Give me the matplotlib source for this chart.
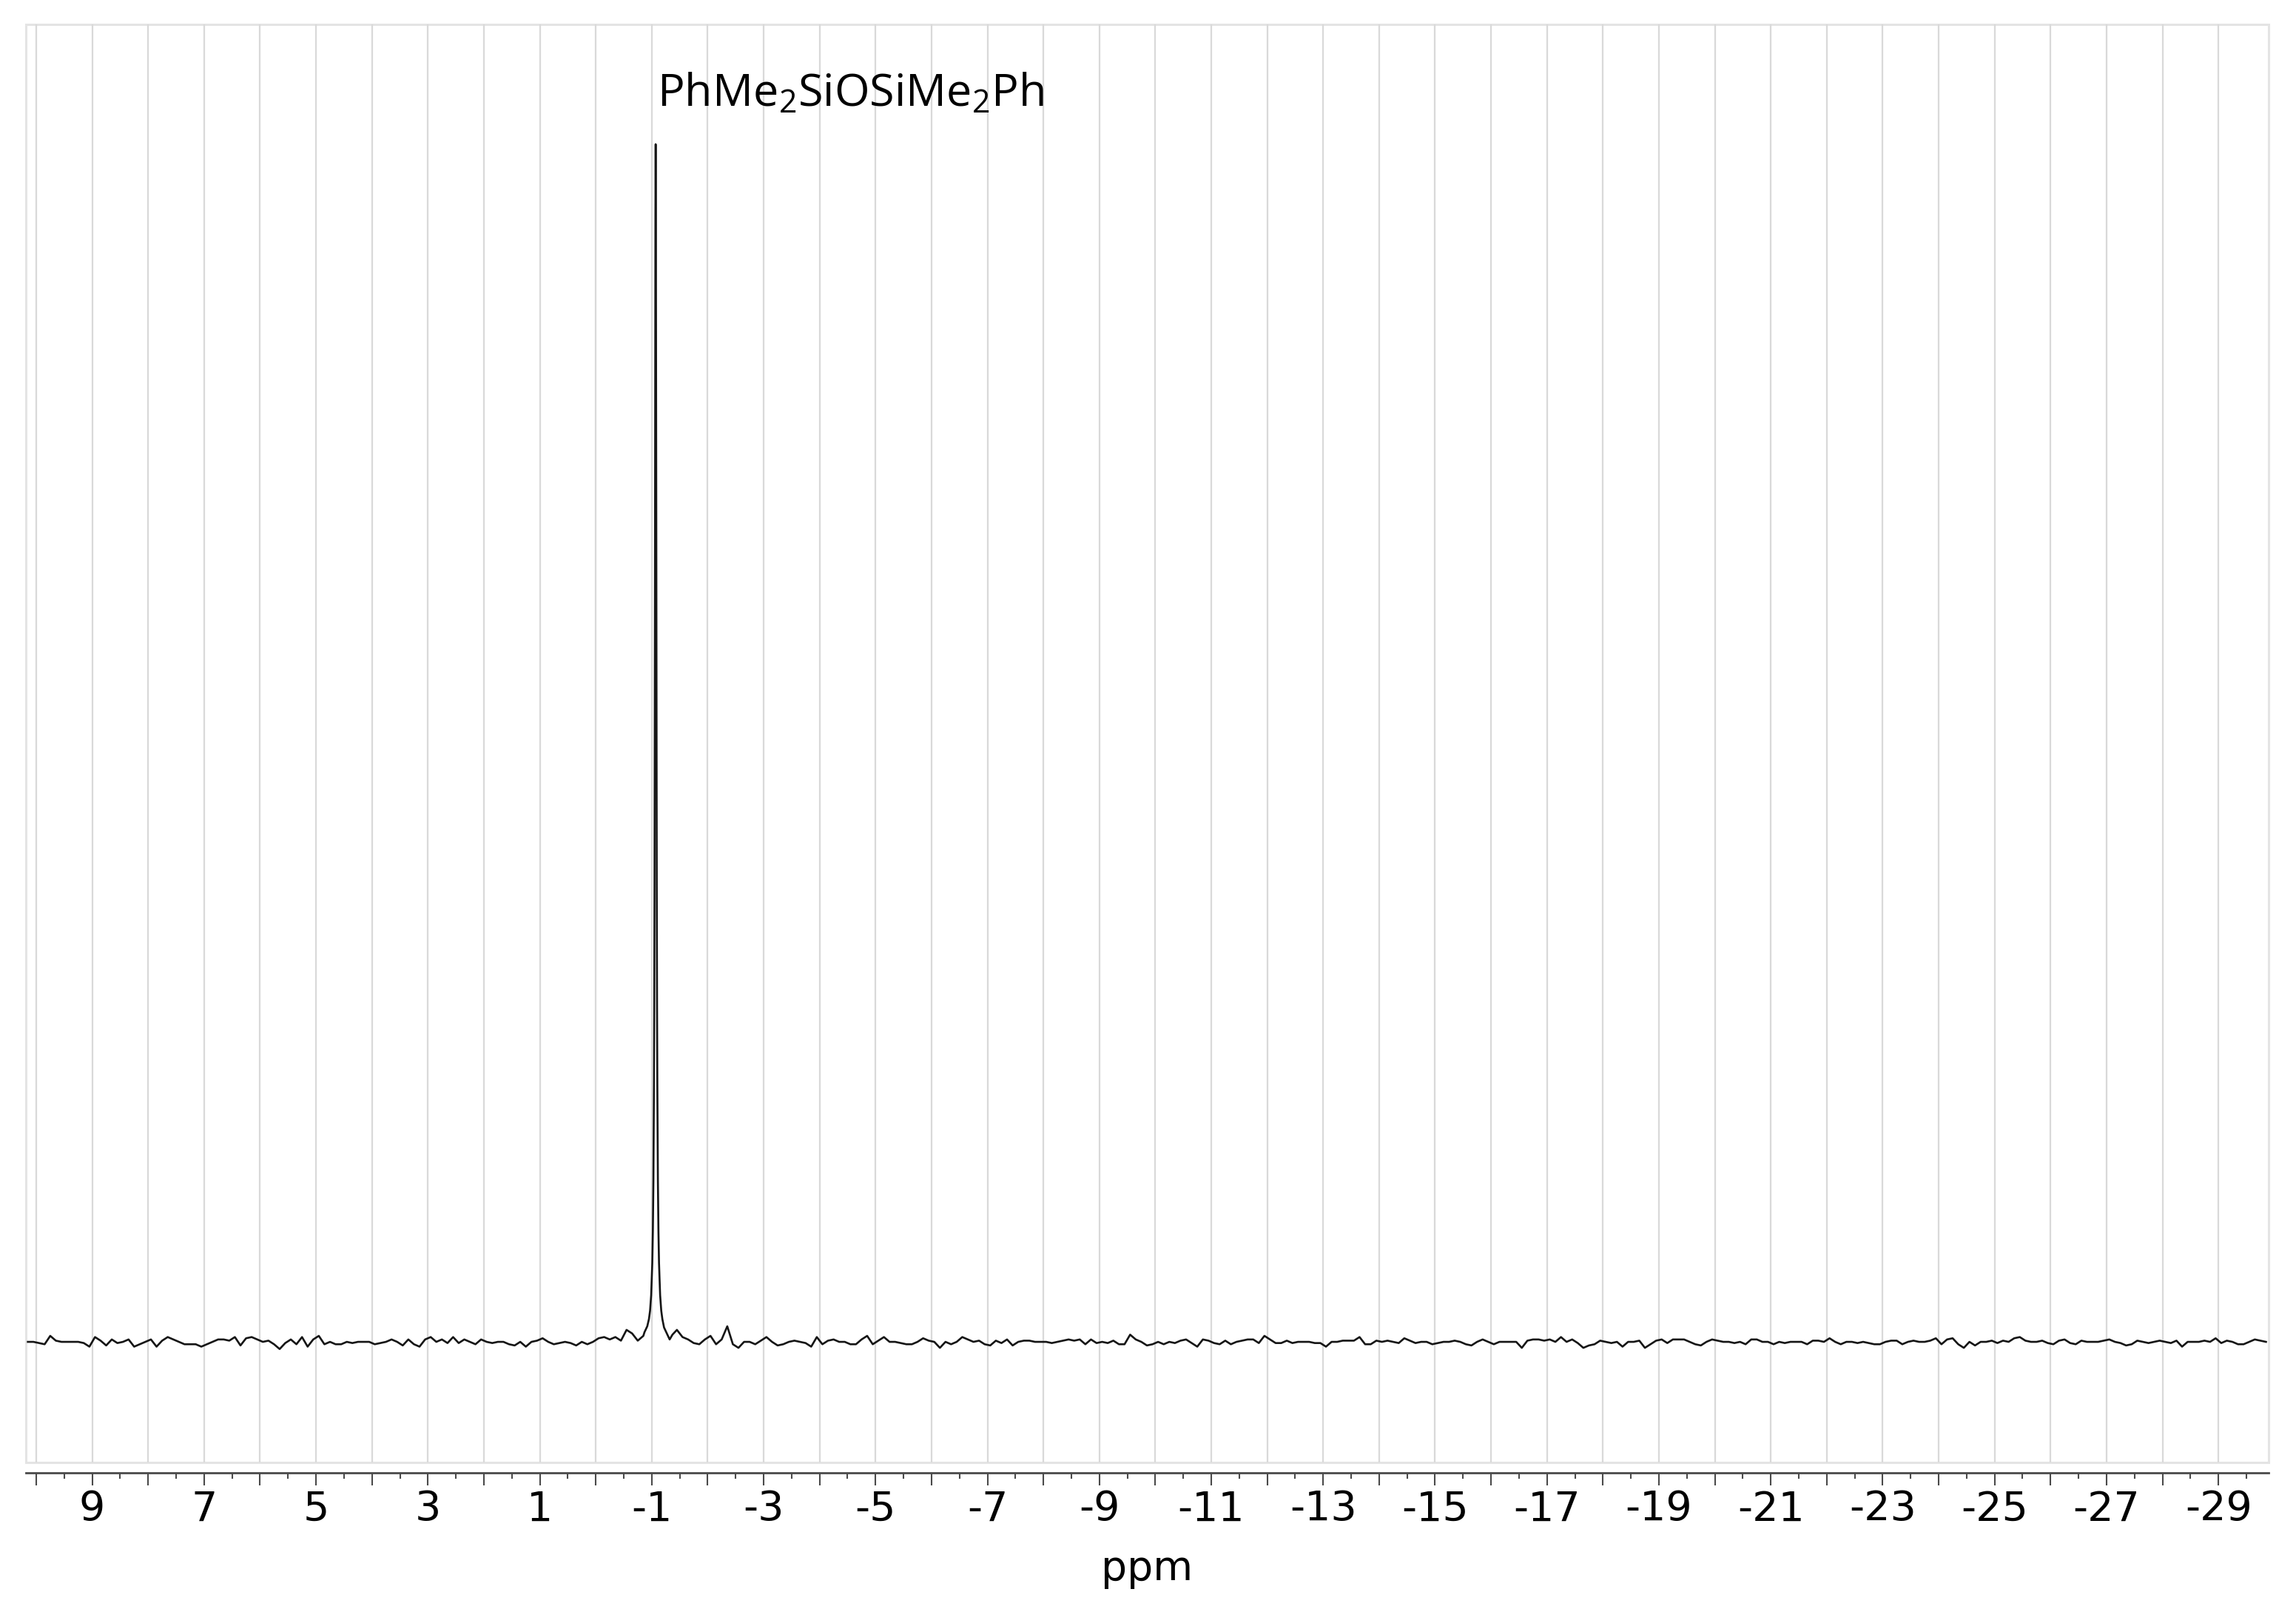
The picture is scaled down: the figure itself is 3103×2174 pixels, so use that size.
import numpy as np
import matplotlib
matplotlib.use("Agg")
import matplotlib.pyplot as plt
from matplotlib.ticker import FixedLocator, FuncFormatter
from matplotlib.patches import Rectangle

plt.rcParams["mathtext.default"] = "regular"

# ---------------- data ----------------
# baseline samples every 0.1 ppm, intensity in tenths of a unit (peak = 100)
sample_step_ppm = 0.1
left_start_ppm = 10.15      # samples 10.15 ... -0.85
left_baseline_tenths = [
    0, 0, -1, -2, 5, 1, 0, 0, 0, 0, -1, -4, 4, 1, -3, 2, -1, 0, 2, -4,
    -2, 0, 2, -4, 1, 4, 2, 0, -2, -2, -2, -4, -2, 0, 2, 2, 1, 4, -3, 3,
    4, 2, 0, 1, -2, -6, -1, 2, -2, 4, -4, 2, 5, -2, 0, -2, -2, 0, -1, 0,
    0, 0, -2, -1, 0, 2, 0, -3, 2,
    -2, -4, 2, 4, 0, 2, -1, 4, -1, 2, 0, -2, 2, 0, -1, 0, 0, -2, -3, 0,
    -4, 0, 1, 3, 0, -2, -1, 0, -1, -3, 0, -2, 0, 3, 4, 2, 4, 1, 10, 7,
    1, 5,
]
right_start_ppm = -1.45     # samples -1.45 ... -29.85
right_baseline_tenths = [
    10, 4, 2, -1, -2, 2, 5, -2, 2, 13, -2, -5, 0, 0, -2, 1, 4, 0, -3, -2,
    0, 1, 0, -1, -4, 4, -2, 1, 2, 0, 0, -2, -2, 2, 5, -2, 1, 4, 0, 0,
    -1, -2, -2, 0, 3, 1, 0, -5, 0, -2, 0, 4, 2, 0, 1, -2, -3, 1, -1, 2,
    -3, 0, 1, 1, 0, 0, 0, -1, 0, 1, 2, 1, 2, -2, 2, -1, 0, -1, 1, -2,
    -2, 6, 2, 0, -3, -2, 0, -2,
    0, -1, 1, 2, -1, -4, 2, 1, -1, -2, 1, -2, 0, 1, 2, 2, -1, 5, 2, -1,
    -1, 1, -1, 0, 0, 0, -1, -1, -4, 0, 0, 1, 1, 1, 4, -2, -2, 1, 0, 1,
    0, -1, 3, 1, -1, 0, 0, -2, -1, 0, 0, 1, 0, -2, -3, 0, 2, 0, -2, 0,
    0, 0, 0, -5, 1, 2, 2,
    1, 2, 0, 4, 0, 2, -1, -5, -3, -2, 1, 0, -1, 0, -4, 0, 0, 1, -5, -2,
    1, 2, -1, 2, 2, 2, 0, -2, -3, 0, 2, 1, 0, 0, -1, 0, -2, 2, 2, 0,
    0, -2, 0, -1, 0, 0, 0, -2, 1, 1, 0, 3, 0, -2, 0, 0, -1, 0, -1, -2,
    -2, 0, 1, 1, -2, 0, 1, 0,
    0, 1, 3, -2, 2, 3, -2, -5, 0, -3, 0, 0, 1, -1, 1, 0, 3, 4, 1, 0,
    0, 1, -1, -2, 1, 2, -1, -2, 1, 0, 0, 0, 1, 2, 0, -1, -3, -2, 1, 0,
    -1, 0, 1, 0, -1, 1, -4, 0, 0, 0, 1, 0, 3, -1, 1, 0, -2, -2, 0, 2,
    1, 0,
]
# main resonance of PhMe2SiOSiMe2Ph near -1.07 ppm
peak_ppm = [-0.87, -0.92, -0.95, -0.97, -0.99, -1.01, -1.02, -1.03, -1.04,
            -1.045, -1.05, -1.054, -1.058, -1.062, -1.066, -1.07, -1.074,
            -1.078, -1.082, -1.086, -1.09, -1.095, -1.10, -1.11, -1.12,
            -1.13, -1.15, -1.17, -1.19, -1.22, -1.27, -1.32, -1.37]
peak_intensity = [0.8, 1.3, 1.9, 2.6, 3.9, 6.6, 9.2, 13.5, 21.7, 28.2, 38.2,
                  49.2, 63.2, 79.2, 94.2, 100.0, 94.0, 79.0, 63.0, 49.0, 38.0,
                  28.0, 21.5, 13.5, 9.2, 6.6, 3.9, 2.6, 1.9, 1.2, 0.7, 0.2, 0.6]

major_ticks = list(range(10, -30, -1))
minor_ticks = [t - 0.5 for t in range(11, -30, -1)]
labelled_ticks = list(range(9, -30, -2))
peak_label = "PhMe$_2$SiOSiMe$_2$Ph"
peak_label_ppm = -1.095
peak_label_y = 103.2
x_label = "ppm"

# ---------------- assemble spectrum ----------------
left_ppm = left_start_ppm - sample_step_ppm * np.arange(len(left_baseline_tenths))
right_ppm = right_start_ppm - sample_step_ppm * np.arange(len(right_baseline_tenths))
ppm = np.concatenate([left_ppm, np.array(peak_ppm), right_ppm])
intensity = np.concatenate([0.1 * np.array(left_baseline_tenths, float),
                            np.array(peak_intensity, float),
                            0.1 * np.array(right_baseline_tenths, float)])

W, H = 3103, 2174
fig = plt.figure(figsize=(W / 100, H / 100), dpi=100)
ax = fig.add_axes([35 / W, (H - 1976) / H, (3066 - 35) / W, (1976 - 33) / H])

ax.plot(ppm, intensity, color="#151515", lw=1.9, solid_joinstyle="round", zorder=3)
ax.set_xlim(10.185, -29.897)
ax.set_ylim(-10.07, 110.0)

for s in ["top", "left", "right"]:
    ax.spines[s].set_visible(False)
ax.spines["bottom"].set_position(("outward", 10))
ax.spines["bottom"].set_color("#4a4a4a")
ax.spines["bottom"].set_linewidth(2.0)
ax.add_patch(Rectangle((0, 0), 1, 1, transform=ax.transAxes, fill=False,
                       ec="#e4e4e4", lw=2.2, clip_on=False, zorder=0.5))

ax.xaxis.set_major_locator(FixedLocator(major_ticks))
ax.xaxis.set_minor_locator(FixedLocator(minor_ticks))
ax.xaxis.set_major_formatter(FuncFormatter(
    lambda v, p: str(int(round(v))) if int(round(v)) in labelled_ticks else ""))
ax.tick_params(axis="x", which="major", direction="out", length=12.2, width=1.5,
               color="#4a4a4a", pad=4, labelsize=40, labelcolor="black")
ax.tick_params(axis="x", which="minor", direction="out", length=5.8, width=1.5,
               color="#4a4a4a")
ax.set_yticks([])
ax.grid(axis="x", which="major", color="#d9d9d9", lw=1.6)
ax.set_axisbelow(True)
ax.set_xlabel(x_label, fontsize=40, labelpad=19)

ax.text(peak_label_ppm, peak_label_y, peak_label, fontsize=44,
        family=["Open Sans", "DejaVu Sans"], ha="left", va="baseline", zorder=4)

fig.savefig("out.png", dpi=100)
